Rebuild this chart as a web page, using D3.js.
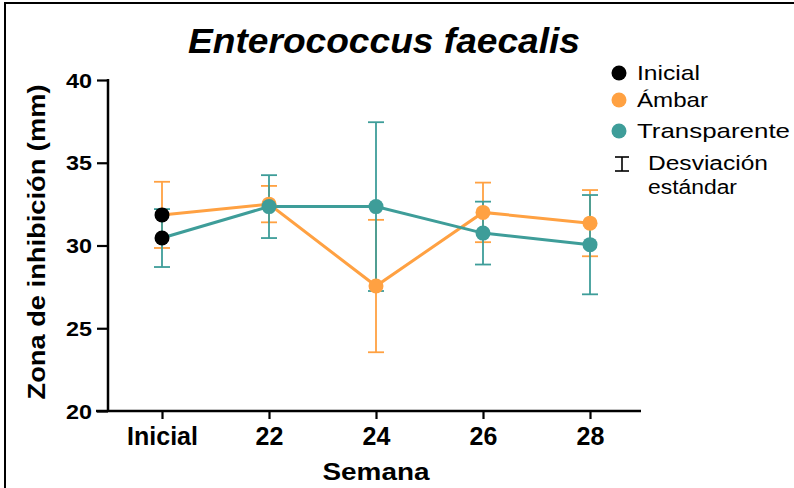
<!DOCTYPE html>
<html>
<head>
<meta charset="utf-8">
<script src="https://cdn.jsdelivr.net/npm/d3@7"></script>
<style>
  body { margin: 0; background: #fff; }
  svg { display: block; font-family: "Liberation Sans", Arial, sans-serif; }
</style>
</head>
<body>
<div id="chart"></div>
<script>
// Data
var categories = ["Inicial", "22", "24", "26", "28"];
var ambarMean = [31.85, 32.5, 27.55, 32.0, 31.35];
var ambarSD = [2.0, 1.1, 4.0, 1.8, 2.0];
var transpMean = [30.45, 32.35, 32.35, 30.75, 30.05];
var transpSD = [1.75, 1.9, 5.1, 1.9, 3.0];
var yTicks = [20, 25, 30, 35, 40];
var legendLabels = ["Inicial", "Ámbar", "Transparente"];

var orange = "#ffa142";
var teal = "#3e9d99";

var width = 794, height = 488;
var svg = d3.select("#chart").append("svg")
  .attr("width", width)
  .attr("height", height);

// outer frame
svg.append("rect")
  .attr("x", 5).attr("y", 3)
  .attr("width", 820).attr("height", 520)
  .attr("fill", "none")
  .attr("stroke", "#000")
  .attr("stroke-width", 2);

var plotLeft = 108, plotRight = 641, plotTop = 80, plotBottom = 411;

var x = d3.scalePoint()
  .domain(categories)
  .range([162, 590]);

var y = d3.scaleLinear()
  .domain([20, 40])
  .range([plotBottom, plotTop]);

// Y axis
var yAxis = svg.append("g")
  .attr("transform", "translate(" + plotLeft + ",0)")
  .call(d3.axisLeft(y).tickValues(yTicks).tickSize(11).tickPadding(5));
yAxis.select(".domain").remove();
yAxis.selectAll(".tick line").attr("stroke", "#000").attr("stroke-width", 2.2);
yAxis.selectAll(".tick text")
  .attr("fill", "#000")
  .style("font-size", "20px")
  .style("font-weight", "bold")
  .attr("dy", "0.36em")
  .attr("textLength", 26)
  .attr("lengthAdjust", "spacingAndGlyphs");
svg.append("line")
  .attr("x1", plotLeft).attr("x2", plotLeft)
  .attr("y1", plotTop - 1).attr("y2", plotBottom)
  .attr("stroke", "#000").attr("stroke-width", 2.5);

// X axis
var xAxis = svg.append("g")
  .attr("transform", "translate(0," + plotBottom + ")")
  .call(d3.axisBottom(x).tickSize(8).tickPadding(8));
xAxis.select(".domain").remove();
xAxis.selectAll(".tick line").attr("stroke", "#000").attr("stroke-width", 2.2);
xAxis.selectAll(".tick text")
  .attr("fill", "#000")
  .style("font-size", "25px")
  .style("font-weight", "bold")
  .attr("dy", "0.71em");
svg.append("line")
  .attr("x1", plotLeft - 12).attr("x2", plotRight)
  .attr("y1", plotBottom).attr("y2", plotBottom)
  .attr("stroke", "#000").attr("stroke-width", 2.5);

// axis titles
svg.append("text")
  .attr("x", 376).attr("y", 480)
  .attr("text-anchor", "middle")
  .style("font-size", "24px")
  .style("font-weight", "bold")
  .attr("textLength", 107)
  .attr("lengthAdjust", "spacingAndGlyphs")
  .text("Semana");

svg.append("text")
  .attr("transform", "translate(45,242) rotate(-90)")
  .attr("text-anchor", "middle")
  .style("font-size", "24px")
  .style("font-weight", "bold")
  .attr("textLength", 315)
  .attr("lengthAdjust", "spacingAndGlyphs")
  .text("Zona de inhibición (mm)");

// title
svg.append("text")
  .attr("x", 384).attr("y", 53)
  .attr("text-anchor", "middle")
  .style("font-size", "35px")
  .style("font-weight", "bold")
  .style("font-style", "italic")
  .attr("textLength", 392)
  .attr("lengthAdjust", "spacingAndGlyphs")
  .text("Enterococcus faecalis");

// series
var series = [
  { name: "ambar", mean: ambarMean, sd: ambarSD, color: orange },
  { name: "transp", mean: transpMean, sd: transpSD, color: teal }
];

function rows(s) {
  return categories.map(function(c, i) { return { cat: c, m: s.mean[i], sd: s.sd[i], i: i }; });
}

var capHalf = 8;

// error bars
series.forEach(function(s) {
  var g = svg.append("g").attr("stroke", s.color).attr("stroke-width", 1.8);
  var d = rows(s);
  g.selectAll(".v").data(d).enter().append("line")
    .attr("x1", function(r) { return x(r.cat); })
    .attr("x2", function(r) { return x(r.cat); })
    .attr("y1", function(r) { return y(r.m + r.sd); })
    .attr("y2", function(r) { return y(r.m - r.sd); });
  g.selectAll(".top").data(d).enter().append("line")
    .attr("x1", function(r) { return x(r.cat) - capHalf; })
    .attr("x2", function(r) { return x(r.cat) + capHalf; })
    .attr("y1", function(r) { return y(r.m + r.sd); })
    .attr("y2", function(r) { return y(r.m + r.sd); });
  g.selectAll(".bot").data(d).enter().append("line")
    .attr("x1", function(r) { return x(r.cat) - capHalf; })
    .attr("x2", function(r) { return x(r.cat) + capHalf; })
    .attr("y1", function(r) { return y(r.m - r.sd); })
    .attr("y2", function(r) { return y(r.m - r.sd); });
});

// lines
var line = d3.line()
  .x(function(r) { return x(r.cat); })
  .y(function(r) { return y(r.m); });

series.forEach(function(s) {
  svg.append("path")
    .datum(rows(s))
    .attr("d", line)
    .attr("fill", "none")
    .attr("stroke", s.color)
    .attr("stroke-width", 3);
});

// markers (first point belongs to the black "Inicial" series)
series.forEach(function(s) {
  svg.selectAll(".pt-" + s.name).data(rows(s)).enter().append("circle")
    .attr("cx", function(r) { return x(r.cat); })
    .attr("cy", function(r) { return y(r.m); })
    .attr("r", 7.5)
    .attr("fill", function(r) { return r.i === 0 ? "#000" : s.color; });
});

// legend
var legendColors = ["#000", orange, teal];
var legendY = [80, 107, 138];
var legendW = [63, 71, 153];
var lg = svg.append("g");
legendLabels.forEach(function(lab, i) {
  lg.append("circle")
    .attr("cx", 619).attr("cy", legendY[i] - 7)
    .attr("r", 7.5)
    .attr("fill", legendColors[i]);
  lg.append("text")
    .attr("x", 637).attr("y", legendY[i])
    .style("font-size", "21px")
    .attr("textLength", legendW[i])
    .attr("lengthAdjust", "spacingAndGlyphs")
    .text(lab);
});

// standard deviation symbol
var ib = lg.append("g").attr("stroke", "#000").attr("stroke-width", 1.6);
ib.append("line").attr("x1", 622).attr("x2", 622).attr("y1", 157).attr("y2", 171);
ib.append("line").attr("x1", 615).attr("x2", 629).attr("y1", 157).attr("y2", 157);
ib.append("line").attr("x1", 615).attr("x2", 629).attr("y1", 171).attr("y2", 171);

lg.append("text")
  .attr("x", 648).attr("y", 170)
  .style("font-size", "20px")
  .attr("textLength", 120)
  .attr("lengthAdjust", "spacingAndGlyphs")
  .text("Desviación");
lg.append("text")
  .attr("x", 648).attr("y", 194)
  .style("font-size", "20px")
  .attr("textLength", 89)
  .attr("lengthAdjust", "spacingAndGlyphs")
  .text("estándar");
</script>
</body>
</html>
